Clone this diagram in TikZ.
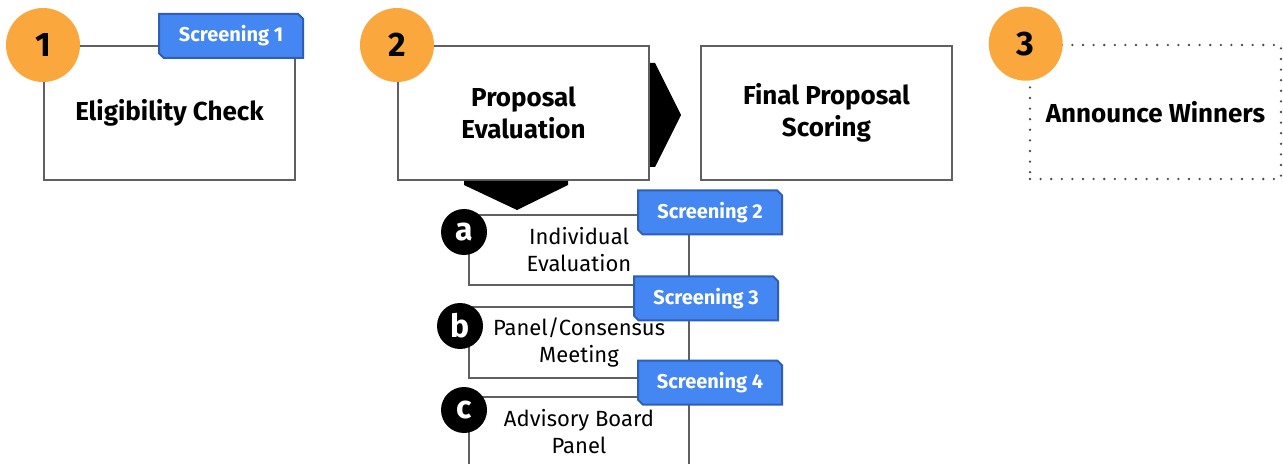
\documentclass[tikz,border=0pt]{standalone}
\usepackage{fontspec}
\setmainfont{Fira Sans}
\usetikzlibrary{calc}
\usetikzlibrary{positioning}
\usetikzlibrary{shapes.misc}
\definecolor{stepnum}{HTML}{FAA83E}
\definecolor{tagblue}{HTML}{4487F2}
\definecolor{tagedge}{HTML}{2E5FB5}
\definecolor{boxline}{HTML}{606060}
\tikzset{
  stepbox/.style={
    draw=boxline, line width=1pt, fill=white,
    minimum width=125.5pt, minimum height=67pt,
    align=center,
    font=\fontsize{13}{16}\selectfont\bfseries
  },
  dotted box/.style={
    draw=boxline!80!black, line width=1.3pt, line cap=round,
    dash pattern=on 0pt off 5.3pt
  },
  subbox/.style={
    draw=boxline, line width=1pt, fill=white,
    minimum width=110pt, minimum height=35pt,
    align=center,
    font=\fontsize{11}{13.5}\selectfont
  },
  stepnum/.style={
    circle, fill=stepnum, inner sep=0pt,
    minimum size=37pt,
    font=\fontsize{17}{17}\selectfont\bfseries
  },
  subnum/.style={
    circle, fill=black, text=white, inner sep=0pt,
    minimum size=23pt,
    font=\fontsize{16}{16}\selectfont\bfseries
  },
  screen tag/.style={
    chamfered rectangle,
    chamfered rectangle corners={north east,south west},
    chamfered rectangle xsep=1.2pt,
    chamfered rectangle ysep=1.2pt,
    fill=tagblue, draw=tagedge, line width=1pt,
    text=white, inner sep=0pt,
    minimum width=72pt, minimum height=22pt,
    font=\fontsize{10}{10}\selectfont\bfseries
  },
  chevron/.style={fill=black}
}
\begin{document}
\begin{tikzpicture}[x=0.5pt,y=-0.5pt]
  \useasboundingbox[fill=white] (0,0) rectangle (1283,464);

  % main steps
  \node[stepbox]            (elig)     at (169.5,113)  {Eligibility Check};
  \node[stepbox]            (eval)     at (523.5,113)  {Proposal\\Evaluation};
  \node[stepbox]            (scoring)  at (826.5,113)  {Final Proposal\\Scoring};
  \node[stepbox,dotted box] (announce) at (1155.5,112) {Announce Winners};

  % chevrons out of the evaluation box
  \fill[chevron] ($(eval.east)+(0,-50)$) -- ($(eval.east)+(5,-50)$)
    -- ($(eval.east)+(31,2)$) -- ($(eval.east)+(5,54)$)
    -- ($(eval.east)+(0,54)$) -- cycle;
  \fill[chevron] ($(eval.south)+(-59.5,0)$) -- ($(eval.south)+(44.5,0)$)
    -- ($(eval.south)+(44.5,4)$) -- ($(eval.south)+(-6.5,29)$)
    -- ($(eval.south)+(-59.5,4)$) -- cycle;

  % evaluation sub-steps
  \node[subbox] (indiv) at (579,250)   {Individual\\Evaluation};
  \node[subbox] (panel) at (579,342.5) {Panel/Consensus\\Meeting};
  \node[subbox] (board) at (579,432)   {Advisory Board\\Panel};

  % numbers
  \node[stepnum] (n1) at (elig.north west)                {1};
  \node[stepnum] (n2) at (eval.north west)                {2};
  \node[stepnum] (n3) at ([xshift=-1.5pt]announce.north west) {3};
  \node[subnum]  (na) at (464,232) {a};
  \node[subnum]  (nb) at (460,326) {b};
  \node[subnum]  (nc) at (464,410) {c};

  % screenings
  \node[screen tag] (scr1) at (231,36)    {Screening 1};
  \node[screen tag] (scr2) at (710,212.5) {Screening 2};
  \node[screen tag] (scr3) at (706,298.5) {Screening 3};
  \node[screen tag] (scr4) at (710,382.5) {Screening 4};
\end{tikzpicture}
\end{document}
